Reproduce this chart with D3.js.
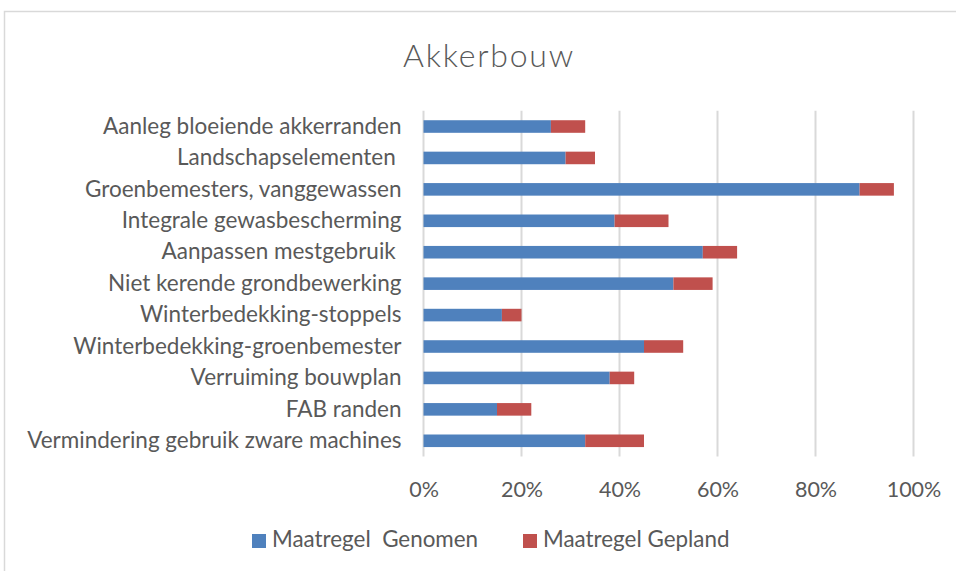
<!DOCTYPE html>
<html><head><meta charset="utf-8">
<script src="https://cdn.jsdelivr.net/npm/d3@7"></script>
<style>body{margin:0;background:#fff}svg{display:block}text{font-family:Lato,"Open Sans",sans-serif;fill:#595959}</style>
</head><body><svg id="c" width="956" height="571"></svg>
<script>
const categories = ["Aanleg bloeiende akkerranden","Landschapselementen ","Groenbemesters, vanggewassen","Integrale gewasbescherming","Aanpassen mestgebruik ","Niet kerende grondbewerking","Winterbedekking-stoppels","Winterbedekking-groenbemester","Verruiming bouwplan","FAB randen","Vermindering gebruik zware machines"];
const genomen = [26,29,89,39,57,51,16,45,38,15,33];
const gepland = [7,6,7,11,7,8,4,8,5,7,12];
const seriesNames = ["Maatregel  Genomen","Maatregel Gepland"];
const tickValues = [0,20,40,60,80,100];
const colors = ["#4F81BD","#C0504D"];

const svg = d3.select("#c");
svg.append("rect").attr("x",4.5).attr("y",11.5).attr("width",960).attr("height",570).attr("fill","none").attr("stroke","#D9D9D9").attr("stroke-width",1.5);
svg.append("text").attr("x",489).attr("y",67).attr("text-anchor","middle").style("font-size","32px").style("letter-spacing","1.8px").style("font-weight",300).text("Akkerbouw");

const x = d3.scaleLinear().domain([0,100]).range([423.5,913.5]);
const y = d3.scaleBand().domain(categories).range([110.8,456.5]).paddingInner(0.6).paddingOuter(0.3);

const g = svg.append("g");
g.selectAll("line.grid").data(tickValues).join("line").attr("class","grid")
 .attr("x1",d=>x(d)).attr("x2",d=>x(d)).attr("y1",y.range()[0]).attr("y2",y.range()[1])
 .attr("stroke","#D9D9D9").attr("stroke-width",2);

const data = categories.map((c,i)=>({c, a:genomen[i], b:gepland[i]}));
g.selectAll("rect.a").data(data).join("rect").attr("class","a")
 .attr("x",x(0)).attr("y",d=>y(d.c)).attr("width",d=>x(d.a)-x(0)).attr("height",y.bandwidth()).attr("fill",colors[0]);
g.selectAll("rect.b").data(data).join("rect").attr("class","b")
 .attr("x",d=>x(d.a)).attr("y",d=>y(d.c)).attr("width",d=>x(d.a+d.b)-x(d.a)).attr("height",y.bandwidth()).attr("fill",colors[1]);

const yAxis = d3.axisLeft(y).tickSize(0).tickPadding(22);
const ya = svg.append("g").attr("transform",`translate(${x(0)},0)`).call(yAxis);
ya.select(".domain").remove();
ya.selectAll("text").style("font-size","22.5px").style("white-space","pre").attr("fill","#595959");

const xAxis = d3.axisBottom(x).tickValues(tickValues).tickFormat(d=>d+"%").tickSize(0).tickPadding(25);
const xa = svg.append("g").attr("transform",`translate(0,${y.range()[1]})`).call(xAxis);
xa.select(".domain").remove();
xa.selectAll("text").style("font-size","21.5px").attr("fill","#595959");

const leg = svg.append("g");
const legX = [252,523];
seriesNames.forEach((n,i)=>{
  leg.append("rect").attr("x",legX[i]).attr("y",534).attr("width",14).attr("height",14).attr("fill",colors[i]);
  leg.append("text").attr("x",legX[i]+20).attr("y",547).style("font-size","22.4px").style("white-space","pre").text(n);
});
</script></body></html>
